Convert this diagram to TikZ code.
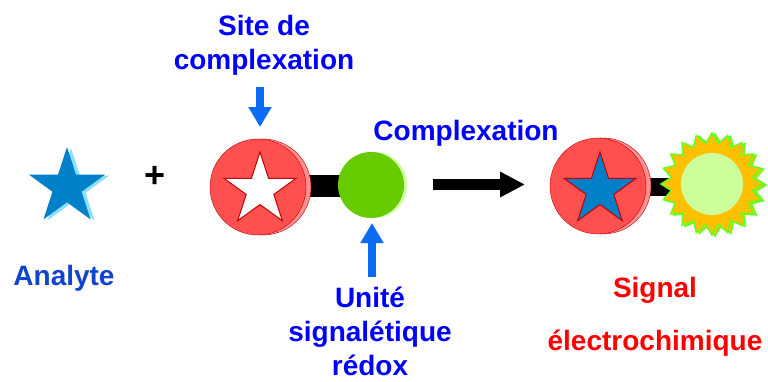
\documentclass[tikz,border=0pt]{standalone}
\usepackage{fontspec}
\setmainfont{Liberation Sans}
\usetikzlibrary{shapes.geometric,arrows.meta}
\tikzset {>=Stealth}
\definecolor{txtblue}{HTML}{0000FF}
\definecolor{anablue}{HTML}{1144CC}
\definecolor{txtred}{HTML}{FF0000}
\definecolor{arrowblue}{HTML}{0A6CF5}
\definecolor{starblue}{HTML}{0080C8}
\definecolor{shadeblue}{HTML}{88E0FF}
\definecolor{coinred}{HTML}{FF5050}
\definecolor{coinrim}{HTML}{FF9090}
\definecolor{darkred}{HTML}{C00000}
\definecolor{ballgreen}{HTML}{66CC00}
\definecolor{ballrim}{HTML}{CCFF99}
\definecolor{sunorange}{HTML}{FFC000}
\definecolor{sunline}{HTML}{66FF22}

\begin{document}
\begin{tikzpicture}[x=1pt,y=-1pt,
  lbl/.style={font=\fontsize{28}{34}\selectfont\bfseries,align=center,inner sep=0pt},
  pointer/.style={line width=8pt,draw=arrowblue,-{Triangle[length=20pt,width=22pt]}},
  starnode/.style={star,star points=5,star point ratio=2.618,inner sep=0pt,minimum size=#1}]
\useasboundingbox (0,0) rectangle (768,381);
% analyte
\node[starnode=80,fill=shadeblue] (ana2) at (71,188) {};
\node[starnode=80,fill=starblue] (ana) at (67,187) {};
\node[lbl,text=anablue,anchor=base] (analyte) at (64,285) {Analyte};
\node[font=\fontsize{36}{36}\selectfont\bfseries,inner sep=0pt] (plus) at (155,177) {+};
% ligand: site + redox unit
\fill (300,175) rectangle (345,197);
\filldraw[fill=coinrim,draw=darkred] (263,187) circle(48);
\filldraw[fill=coinred,draw=darkred] (258,187) circle(48);
\node[starnode=76,fill=white,draw=darkred,line width=1pt] (site) at (260,190) {};
\fill[ballrim] (374,185) circle(33);
\fill[ballgreen] (371,185) circle(33);
\node[lbl,text=txtblue,anchor=north] (sitelbl) at (264,15) {Site de\\complexation};
\coordinate (s1) at (260,87);
\coordinate (s2) at (260,127);
\draw[pointer] (s1) -- (s2);
\node[lbl,text=txtblue,anchor=north] (redox) at (370,286.5) {Unité\\signalétique\\rédox};
\coordinate (r1) at (372,277);
\coordinate (r2) at (372,223);
\draw[pointer] (r1) -- (r2);
% reaction
\node[lbl,text=txtblue,anchor=base] (cplx) at (466,140) {Complexation};
\coordinate (c1) at (433,184.5);
\coordinate (c2) at (525,184.5);
\draw[line width=11pt,-{Triangle[length=25pt,width=24pt]}] (c1) -- (c2);
% complex + signal
\fill (640,178) rectangle (680,196);
\filldraw[fill=coinrim,draw=darkred] (603,186) circle(48);
\filldraw[fill=coinred,draw=darkred] (598,186) circle(48);
\node[starnode=76,fill=starblue,draw=darkred,line width=1pt] (bound) at (600,190) {};
\node[star,star points=20,star point ratio=1.24,inner sep=0pt,minimum size=102,
  fill=sunorange,draw=sunline,line width=1.5pt] (sun2) at (715,185) {};
\node[star,star points=20,star point ratio=1.24,inner sep=0pt,minimum size=102,
  fill=sunorange,draw=sunline,line width=1.5pt] (sun) at (712,184) {};
\fill[ballrim] (sun.center) circle(31);
\node[lbl,text=txtred,anchor=north,font=\fontsize{28}{53}\selectfont\bfseries] (signal) at (655,277) {Signal\\électrochimique};
\end{tikzpicture}
\end{document}
